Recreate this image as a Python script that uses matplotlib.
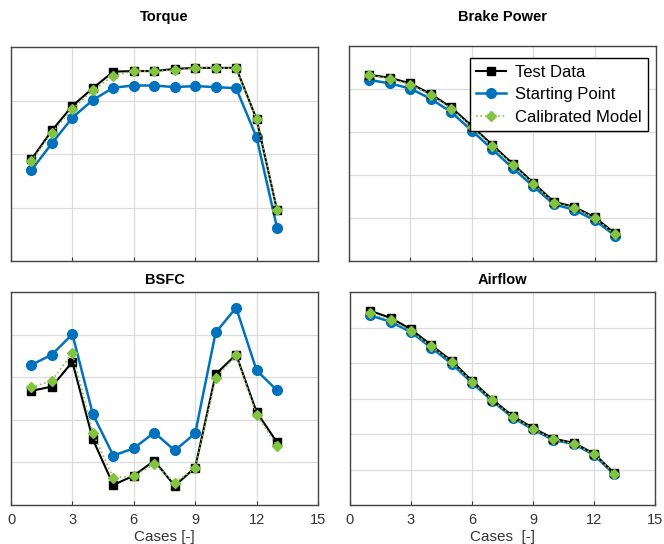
import matplotlib
matplotlib.use("Agg")
import matplotlib.pyplot as plt
import numpy as np

plt.rcParams['font.family'] = ['Liberation Sans', 'DejaVu Sans']

cases = list(range(1, 14))

torque_test = [1.90, 2.44, 2.90, 3.23, 3.54, 3.55, 3.55, 3.59, 3.61, 3.61, 3.61, 2.65, 0.95]
torque_start = [1.70, 2.20, 2.68, 3.01, 3.24, 3.28, 3.28, 3.25, 3.27, 3.25, 3.23, 2.31, 0.62]
torque_cal = [1.87, 2.40, 2.84, 3.19, 3.46, 3.55, 3.55, 3.57, 3.61, 3.61, 3.60, 2.65, 0.96]

power_test = [4.33, 4.26, 4.13, 3.88, 3.57, 3.14, 2.70, 2.26, 1.82, 1.38, 1.26, 1.02, 0.64]
power_start = [4.21, 4.13, 4.01, 3.77, 3.46, 3.03, 2.60, 2.16, 1.74, 1.32, 1.19, 0.95, 0.59]
power_cal = [4.32, 4.24, 4.10, 3.86, 3.54, 3.11, 2.67, 2.23, 1.80, 1.36, 1.24, 1.00, 0.62]

bsfc_test = [2.68, 2.78, 3.36, 1.54, 0.47, 0.69, 1.04, 0.45, 0.88, 3.07, 3.53, 2.18, 1.47]
bsfc_start = [3.29, 3.53, 4.01, 2.13, 1.16, 1.33, 1.70, 1.28, 1.68, 4.05, 4.63, 3.16, 2.69]
bsfc_cal = [2.76, 2.92, 3.57, 1.69, 0.64, 0.68, 0.96, 0.52, 0.86, 2.98, 3.51, 2.12, 1.39]

air_test = [5.47, 5.27, 4.95, 4.50, 4.06, 3.50, 2.97, 2.51, 2.17, 1.87, 1.75, 1.45, 0.89]
air_start = [5.34, 5.16, 4.87, 4.43, 3.98, 3.44, 2.93, 2.46, 2.13, 1.83, 1.72, 1.41, 0.86]
air_cal = [5.41, 5.21, 4.90, 4.47, 4.03, 3.47, 2.95, 2.49, 2.15, 1.85, 1.73, 1.43, 0.88]

titles = ["Torque", "Brake Power", "BSFC", "Airflow"]
series_names = ["Test Data", "Starting Point", "Calibrated Model"]
x_ticks = [0, 3, 6, 9, 12, 15]
x_labels = ["Cases [-]", "Cases  [-]"]
y_tops = [4, 5, 5, 6]

W, H = 664, 544
fig = plt.figure(figsize=(W / 100, H / 100), dpi=100)

def rect(l, r, t, b):
    return [l / W, 1 - b / H, (r - l) / W, (b - t) / H]

boxes = [rect(11, 318, 47, 261), rect(349, 656, 46, 261),
         rect(11, 318, 292, 505), rect(350, 655, 292, 505)]
data = [(torque_test, torque_start, torque_cal),
        (power_test, power_start, power_cal),
        (bsfc_test, bsfc_start, bsfc_cal),
        (air_test, air_start, air_cal)]
title_y = [17, 17, 280, 280]

blue = '#0072BD'
green = '#82C341'
axes = []
for i, (box, (t, s, c)) in enumerate(zip(boxes, data)):
    ax = fig.add_axes(box)
    axes.append(ax)
    ax.plot(cases, t, color='black', lw=1.5, marker='s', ms=6, label=series_names[0], zorder=3)
    ax.plot(cases, s, color=blue, lw=1.8, marker='o', ms=7, label=series_names[1], zorder=2)
    ax.plot(cases, c, color=green, lw=1.2, ls=':', marker='D', ms=5, label=series_names[2], zorder=4)
    ax.set_xlim(0, 15)
    ax.set_ylim(0, y_tops[i])
    ax.set_xticks(x_ticks)
    ax.set_yticks(np.arange(0, y_tops[i] + 1))
    ax.grid(True, color='#dcdcdc', lw=0.9)
    ax.set_axisbelow(True)
    ax.tick_params(axis='y', left=False, labelleft=False)
    ax.tick_params(axis='x', direction='in', length=3, color='#333333',
                   labelsize=10.5, labelcolor='#333333', pad=6)
    for sp in ax.spines.values():
        sp.set_color('#444444')
        sp.set_linewidth(1.0)
    if i < 2:
        ax.tick_params(axis='x', labelbottom=False)
    else:
        ax.set_xlabel(x_labels[i - 2], fontsize=11, color='#333333', labelpad=2)
    cx = (box[0] + box[2] / 2)
    fig.text(cx, 1 - title_y[i] / H, titles[i], ha='center', va='center',
             fontsize=10.5, fontweight='bold')

leg = axes[1].legend(loc='upper right', bbox_to_anchor=(0.974, 0.944), borderaxespad=0,
                     fontsize=12, frameon=True, fancybox=False, framealpha=1,
                     handlelength=1.8, handletextpad=0.5, borderpad=0.4, labelspacing=0.45)
leg.get_frame().set_edgecolor('black')
leg.get_frame().set_linewidth(1.0)

fig.savefig("out.png", dpi=100)
